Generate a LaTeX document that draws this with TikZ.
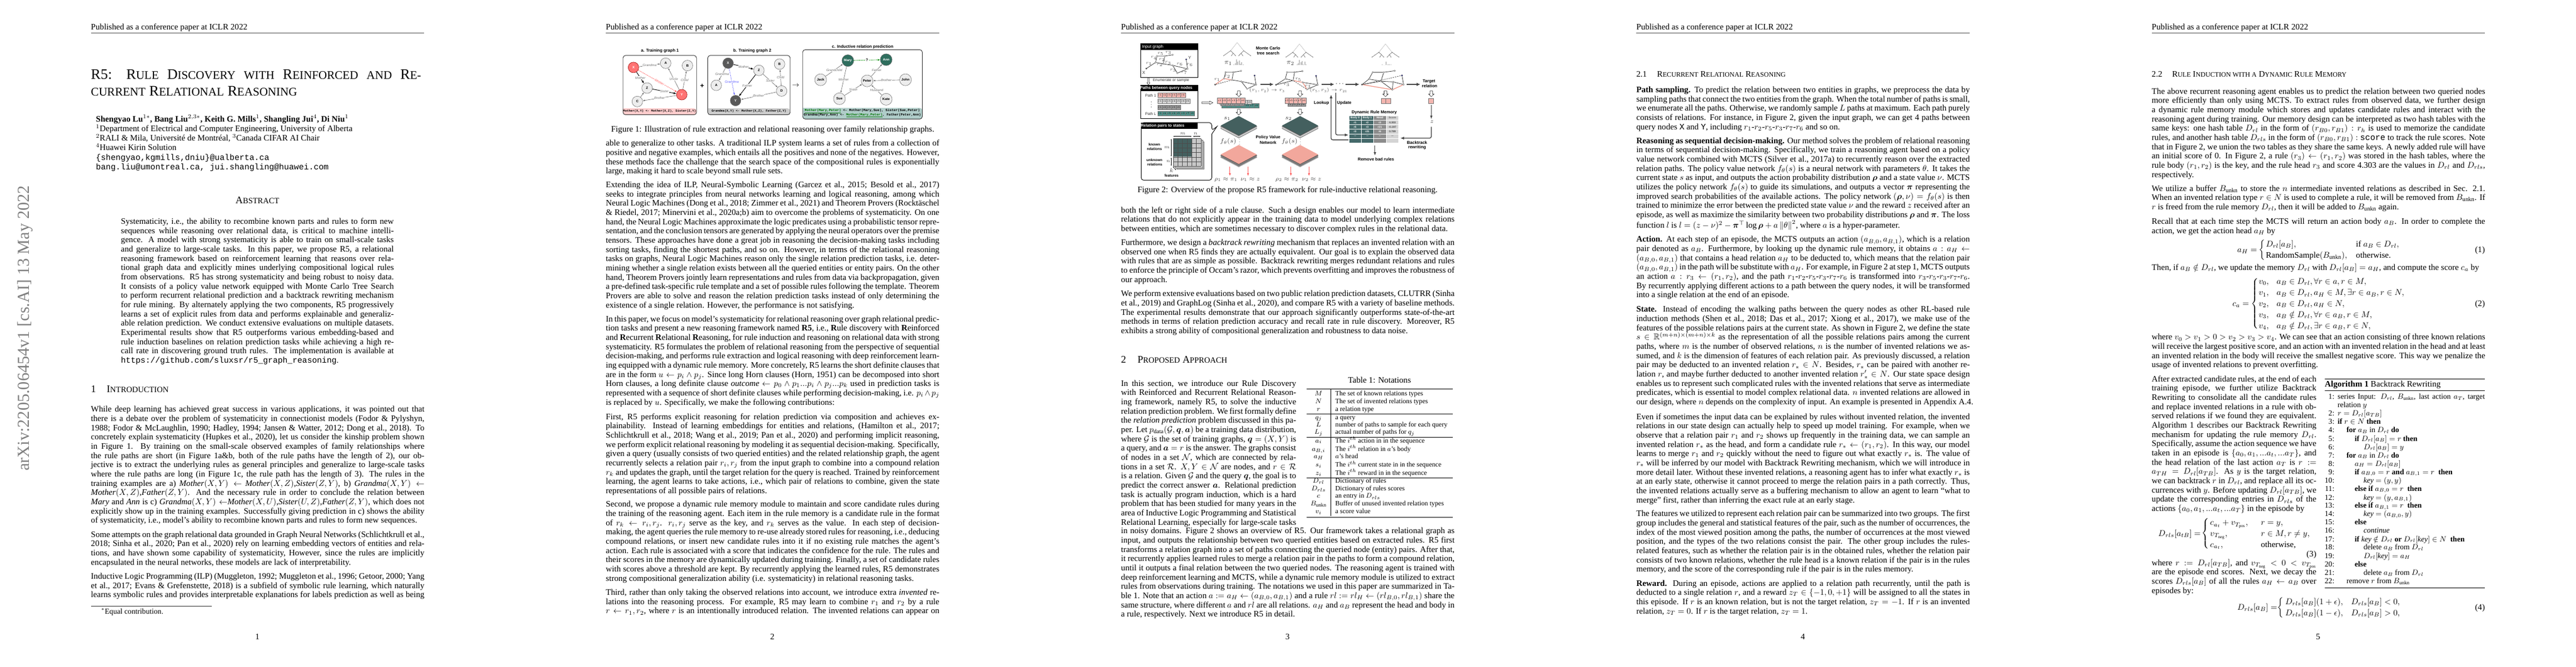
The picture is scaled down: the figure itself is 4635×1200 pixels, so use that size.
\documentclass[tikz,border=0pt]{standalone}
\usepackage{fix-cm}
\usepackage{amsmath,amssymb}
\usepackage{fontspec}
\setmainfont{Liberation Serif}
\setsansfont{Liberation Sans}
\setmonofont{Liberation Mono}
\usetikzlibrary{arrows.meta}
\overfullrule=0pt \hbadness=10000 \hfuzz=50pt
\newdimen\pw
\newcount\nn
\definecolor{pink1}{HTML}{F4B6B0}
\definecolor{pinkd}{HTML}{F2A79C}
\definecolor{pinkl}{HTML}{EF8F80}
\definecolor{tealp}{HTML}{4F9088}
\definecolor{teald}{HTML}{44605F}
\definecolor{tealt}{HTML}{44696A}
\definecolor{redn}{HTML}{FF7373}
\definecolor{greenn}{HTML}{2F6E5E}
\definecolor{darka}{HTML}{444444}
\definecolor{barg}{HTML}{C4C4C4}
\newcommand\nt[3][]{\global\advance\nn by 1 \node[#1] (n\the\nn) at #2 {#3};}
\newcommand\arr[3][]{\global\advance\nn by 1 \coordinate (a\the\nn) at (#2); \coordinate (b\the\nn) at (#3); \draw[#1] (a\the\nn) -- (b\the\nn);}
\newcommand\jl[1]{\hbox to \pw{#1}}
\newcommand\eln[1]{\hbox{#1}}
\newcommand\para[4]{\global\advance\nn by 1 \node[tx] (n\the\nn) at (#1,{#2+9}) {\pw=#3pt\vtop{\lineskiplimit=-100pt \lineskip=0pt \baselineskip=11pt #4}};}
\newcommand\tsc[1]{{\fontsize{13.9}{14}\selectfont #1}}
\newcommand\hsc[1]{{\fontsize{9.6}{11}\selectfont #1}}
\newcommand\ssc[1]{{\fontsize{8}{10}\selectfont #1}}
\newcommand\hdr[2]{\nt[tx]{(#1,141)}{Published as a conference paper at ICLR 2022}\draw[line width=.45pt,black!75] (#1,155) -- (#2,155);}
\newcommand\brc[1]{$\left\{\vcenter{\hbox{\rule{0pt}{#1}}}\right.$}
\newcommand\aln[4]{\nt[tx,algf,anchor=base east]{(831,{#3+9})}{#1:}\nt[tx,algf]{(#2,{#3+9})}{#4}}
\newcommand\trow[3]{\nt[tb,anchor=base]{(864,{#1+7})}{#2}\nt[tb]{(915,{#1+7})}{#3}}
\newcommand\cells[6]{\foreach \t [count=\i from 0] in {#6}{\pgfmathsetmacro{\xx}{#1+\i*#3}\draw[fill=#5,draw=black!55,line width=.25pt] (\xx,#2) rectangle +(#3,#4);\nt[cellt]{(\xx+#3/2,#2+#4/2)}{$\t$}}}
\newcommand\hdown[3]{\fill[white] ({#1-4},#2) rectangle ({#1+4},#3);\draw[line width=.4pt,black!80] ({#1-4},#2) -- ({#1+4},#2) -- ({#1+4},{#3-12}) -- ({#1+8},{#3-12}) -- (#1,#3) -- ({#1-8},{#3-12}) -- ({#1-4},{#3-12}) -- cycle;}
\newcommand\tree[2]{\begin{scope}[shift={(#1,#2)}]
\draw[line width=.25pt,black!35] (-20,39) -- (0,0) -- (20,39);
\draw[line width=.3pt,black!70] (-41,62) -- (-20,39) -- (-12,50) (-17,62) -- (-12,50) -- (-5,62) (41,62) -- (20,39) -- (12,50) (17,62) -- (12,50) -- (5,62);
\foreach \a/\b in {-41/62,-17/62,-5/62,41/62,17/62,5/62,-20/39,20/39}{\fill[black!70] (\a,\b) circle (.35pt);}
\end{scope}}
\newcommand\bars[2]{\foreach \h [count=\i from 0] in {#2}{\fill[barg] ({#1+\i*3.9},307) rectangle +(3.2,{-\h});}}
\newcommand\dmdt[4]{\foreach \o/\c in {#4}{\draw[fill=\c,draw=black!45,line width=.2pt] (#1,{#2-45+\o}) -- ({#1+55},{#2+\o}) -- (#1,{#2+45+\o}) -- ({#1-55},{#2+\o}) -- cycle;}\draw[fill=#3,draw=none] (#1,{#2-45}) -- ({#1+55},#2) -- (#1,{#2+45}) -- ({#1-55},#2) -- cycle;}
\tikzset{
 tx/.style={anchor=base west,inner sep=0pt,outer sep=0pt,font=\fontsize{10}{11}\selectfont},
 algf/.style={font=\fontsize{9}{10}\selectfont},
 tb/.style={anchor=base west,inner sep=0pt,outer sep=0pt,font=\fontsize{8}{9}\selectfont},
 zs/.style 2 args={shift={(#1,#2)},x=0.39146pt,y=-0.25258pt},
 zf/.style 2 args={shift={(#1,#2)},x=0.38938pt,y=-0.25258pt},
 zel/.style={shift={(1050,70)},x=0.2694pt,y=-0.2189pt},
 ztw/.style={shift={(1990,60)},x=0.22pt,y=-0.22pt},
 cen/.style={anchor=center,inner sep=0pt,outer sep=0pt},
 fb/.style={cen,align=center,font=\sffamily\bfseries\fontsize{5}{6}\selectfont},
 fr/.style={cen,font=\sffamily\fontsize{4.5}{5}\selectfont,text=black!80},
 fw/.style={cen,font=\sffamily\bfseries\fontsize{4.7}{5}\selectfont,text=white},
 cellt/.style={cen,font=\fontsize{2.8}{3}\selectfont},
 fm/.style={cen,font=\fontsize{7}{8}\selectfont,text=black!75},
 frl/.style={cen,font=\fontsize{5}{6}\selectfont,text=black!70},
 pbox/.style={draw=black!80,line width=.6pt,rounded corners=3pt},
 blk/.style={draw=black,line width=.6pt},
 ga/.style={circle,draw=black!60,fill=black!7,line width=.35pt,minimum size=12.6pt,inner sep=0pt,font=\sffamily\bfseries\fontsize{4}{5}\selectfont},
 gr/.style={ga,fill=redn,text=white,draw=red!60!black},
 gd/.style={ga,fill=black!65,text=white},
 gg/.style={ga,fill=greenn,text=white,minimum size=14pt},
 gc/.style={ga,minimum size=14pt},
 el/.style={fill=white,inner sep=.3pt,font=\sffamily\itshape\fontsize{3.9}{4}\selectfont,text=black!55},
 ge/.style={draw=black!60,line width=.4pt,-{Latex[length=2.4pt,width=1.8pt]}},
 gb/.style={draw=black,line width=.6pt,-{Latex[length=3.2pt,width=2.6pt]}},
 ta/.style={draw=darka,line width=1.15pt,-{Latex[length=4.5pt,width=4pt]}},
 tb2/.style={draw=darka,line width=.9pt,rounded corners=2pt,-{Latex[length=4.5pt,width=3.6pt]}},
 dn/.style={circle,fill=white,draw=black!65,line width=.25pt,minimum size=1.8pt,inner sep=0pt},
 dq/.style={dn,fill=black!70},
 dt/.style={dn,fill=blue!50!black},
 gl/.style={draw=black!80,line width=.5pt},
 gp/.style={draw=pinkl,line width=.8pt},
 gq/.style={draw=black!75,line width=.45pt,dash pattern=on 1.6pt off 1pt},
 tc/.style={cen,font=\sffamily\bfseries\fontsize{3.2}{4}\selectfont,text=white},
 rr/.style={draw=black,line width=.45pt},
}
\begin{document}
\begin{tikzpicture}[x=.66pt,y=-.66pt]
\useasboundingbox (0,0) rectangle (4635,1200);
\fill[white] (0,0) rectangle (4635,1200);
% ---------- arXiv stamp
\node[rotate=90,anchor=base west,inner sep=0pt,text=black!50,font=\fontsize{20}{22}\selectfont] (stamp) at (52,848) {arXiv:2205.06454v1 [cs.AI] 13 May 2022};
% ---------- PAGE 1
\begin{scope}[zs={0}{0}]
\hdr{276}{1286}
\nt[tx,font=\fontsize{17.28}{20}\selectfont]{(276,372)}{\pw=392pt\jl{R5: R\tsc{ULE} D\tsc{ISCOVERY} \tsc{WITH} R\tsc{EINFORCED} \tsc{AND} R\tsc{E-}}}
\nt[tx,font=\fontsize{17.28}{20}\selectfont]{(276,452)}{\tsc{CURRENT} R\tsc{ELATIONAL} R\tsc{EASONING}}
\nt[tx]{(291,573)}{\textbf{Shengyao Lu$^{1*}$, Bang Liu$^{2,3*}$, Keith G. Mills$^{1}$, Shangling Jui$^{4}$, Di Niu$^{1}$}}
\nt[tx]{(291,618)}{$^1$Department of Electrical and Computer Engineering, University of Alberta}
\nt[tx]{(291,663)}{$^2$RALI \& Mila, Université de Montréal, $^3$Canada CIFAR AI Chair}
\nt[tx]{(291,708)}{$^4$Huawei Kirin Solution}
\nt[tx]{(291,753)}{\fontsize{9.8}{11}\selectfont\ttfamily\{shengyao,kgmills,dniu\}@ualberta.ca}
\nt[tx]{(291,797)}{\fontsize{9.8}{11}\selectfont\ttfamily bang.liu@umontreal.ca, jui.shangling@huawei.com}
\nt[tx,anchor=base,font=\fontsize{12}{14}\selectfont]{(781,958)}{A\hsc{BSTRACT}}
\para{367}{1045}{324}{
\jl{Systematicity, i.e., the ability to recombine known parts and rules to form new}
\jl{sequences while reasoning over relational data, is critical to machine intelli-}
\jl{gence. A model with strong systematicity is able to train on small-scale tasks}
\jl{and generalize to large-scale tasks. In this paper, we propose R5, a relational}
\jl{reasoning framework based on reinforcement learning that reasons over rela-}
\jl{tional graph data and explicitly mines underlying compositional logical rules}
\jl{from observations. R5 has strong systematicity and being robust to noisy data.}
\jl{It consists of a policy value network equipped with Monte Carlo Tree Search}
\jl{to perform recurrent relational prediction and a backtrack rewriting mechanism}
\jl{for rule mining. By alternately applying the two components, R5 progressively}
\jl{learns a set of explicit rules from data and performs explainable and generaliz-}
\jl{able relation prediction. We conduct extensive evaluations on multiple datasets.}
\jl{Experimental results show that R5 outperforms various embedding-based and}
\jl{rule induction baselines on relation prediction tasks while achieving a high re-}
\jl{call rate in discovering ground truth rules. The implementation is available at}
\eln{\fontsize{9.7}{11}\selectfont\ttfamily https://github.com/sluxsr/r5\_graph\_reasoning\rmfamily.}
}
\end{scope}
\begin{scope}[zs={0}{600}]
\nt[tx,font=\fontsize{12}{14}\selectfont]{(276,277)}{1}
\nt[tx,font=\fontsize{12}{14}\selectfont]{(324,277)}{I\hsc{NTRODUCTION}}
\para{276}{362}{396}{
\jl{While deep learning has achieved great success in various applications, it was pointed out that}
\jl{there is a debate over the problem of systematicity in connectionist models (Fodor \& Pylyshyn,}
\jl{1988; Fodor \& McLaughlin, 1990; Hadley, 1994; Jansen \& Watter, 2012; Dong et al., 2018). To}
\jl{concretely explain systematicity (Hupkes et al., 2020), let us consider the kinship problem shown}
\jl{in Figure 1. By training on the small-scale observed examples of family relationships where}
\jl{the rule paths are short (in Figure 1a\&b, both of the rule paths have the length of 2), our ob-}
\jl{jective is to extract the underlying rules as general principles and generalize to large-scale tasks}
\jl{where the rule paths are long (in Figure 1c, the rule path has the length of 3). The rules in the}
\jl{training examples are a) \textit{Mother}$(X,Y)\leftarrow$ \textit{Mother}$(X,Z)$,\textit{Sister}$(Z,Y)$, b) \textit{Grandma}$(X,Y)\leftarrow$}
\jl{\textit{Mother}$(X,Z)$,\textit{Father}$(Z,Y)$. And the necessary rule in order to conclude the relation between}
\jl{\textit{Mary} and \textit{Ann} is c) \textit{Grandma}$(X,Y)\leftarrow$\textit{Mother}$(X,U)$,\textit{Sister}$(U,Z)$,\textit{Father}$(Z,Y)$, which does not}
\jl{explicitly show up in the training examples. Successfully giving prediction in c) shows the ability}
\eln{of systematicity, i.e., model’s ability to recombine known parts and rules to form new sequences.}
}
\para{276}{950}{396}{
\jl{Some attempts on the graph relational data grounded in Graph Neural Networks (Schlichtkrull et al.,}
\jl{2018; Sinha et al., 2020; Pan et al., 2020) rely on learning embedding vectors of entities and rela-}
\jl{tions, and have shown some capability of systematicity, However, since the rules are implicitly}
\eln{encapsulated in the neural networks, these models are lack of interpretability.}
}
\para{276}{1147}{396}{
\jl{Inductive Logic Programming (ILP) (Muggleton, 1992; Muggleton et al., 1996; Getoor, 2000; Yang}
\jl{et al., 2017; Evans \& Grefenstette, 2018) is a subfield of symbolic rule learning, which naturally}
\jl{learns symbolic rules and provides interpretable explanations for labels prediction as well as being}
}
\draw[line width=.4pt,black!80] (276,1285) -- (642,1285);
\nt[tx,font=\fontsize{9}{10}\selectfont]{(307,1321)}{$^*$Equal contribution.}
\nt[tx,anchor=base]{(781,1441)}{1}
\end{scope}
% ---------- PAGE 2
\begin{scope}[zs={930}{0}]
\hdr{270}{1281}
\fill[red!20] (322,510) [rounded corners=3pt] -- (322,540) -- (545,540) -- (545,510) [sharp corners] -- cycle;
\fill[black!20] (579,510) [rounded corners=3pt] -- (579,540) -- (829,540) -- (829,510) [sharp corners] -- cycle;
\fill[tealp!45] (867,508) [rounded corners=3pt] -- (867,560) -- (1230,560) -- (1230,508) [sharp corners] -- cycle;
\draw[pbox] (322,261) rectangle (545,540);
\draw[pbox] (579,261) rectangle (829,540);
\draw[pbox] (867,234) rectangle (1230,560);
\nt[fb]{(434,240)}{a. Training graph 1}
\nt[fb]{(714,240)}{b. Training graph 2}
\nt[fb]{(1049,220)}{c. Inductive relation prediction}
\nt[cen,font=\ttfamily\bfseries\fontsize{3.7}{4}\selectfont]{(433,523)}{Mother(X,Y) <- Mother(X,Z), Sister(Z,Y)}
\nt[cen,font=\ttfamily\bfseries\fontsize{3.7}{4}\selectfont]{(704,523)}{Grandma(X,Y) <- Mother(X,Z), Father(Z,Y)}
\nt[cen,font=\ttfamily\bfseries\fontsize{4}{4.5}\selectfont]{(1048,523)}{\textcolor{green!45!black}{\underline{Mother(Mary,Peter)}} <- Mother(Mary,Sue), Sister(Sue,Peter)}
\nt[cen,font=\ttfamily\bfseries\fontsize{4}{4.5}\selectfont]{(1048,542)}{Grandma(Mary,Ann) <- \textcolor{green!45!black}{\underline{Mother(Mary,Peter)}}, Father(Peter,Ann)}
\nt[cen,font=\sffamily\bfseries\fontsize{8}{9}\selectfont]{(562,405)}{+}
\nt[cen,font=\fontsize{8}{9}\selectfont]{(846,402)}{$\rightarrow$}
\nt[tx,anchor=base,font=\fontsize{10}{11}\selectfont]{(776,621)}{Figure 1: Illustration of rule extraction and relational reasoning over family relationship graphs.}
\para{270}{678}{396}{
\jl{able to generalize to other tasks. A traditional ILP system learns a set of rules from a collection of}
\jl{positive and negative examples, which entails all the positives and none of the negatives. However,}
\jl{these methods face the challenge that the search space of the compositional rules is exponentially}
\eln{large, making it hard to scale beyond small rule sets.}
}
\para{270}{873}{396}{
\jl{Extending the idea of ILP, Neural-Symbolic Learning (Garcez et al., 2015; Besold et al., 2017)}
\jl{seeks to integrate principles from neural networks learning and logical reasoning, among which}
\jl{Neural Logic Machines (Dong et al., 2018; Zimmer et al., 2021) and Theorem Provers (Rocktäschel}
\jl{\& Riedel, 2017; Minervini et al., 2020a;b) aim to overcome the problems of systematicity. On one}
\jl{hand, the Neural Logic Machines approximate the logic predicates using a probabilistic tensor repre-}
\jl{sentation, and the conclusion tensors are generated by applying the neural operators over the premise}
\jl{tensors. These approaches have done a great job in reasoning the decision-making tasks including}
\jl{sorting tasks, finding the shortest paths, and so on. However, in terms of the relational reasoning}
\jl{tasks on graphs, Neural Logic Machines reason only the single relation prediction tasks, i.e. deter-}
\jl{mining whether a single relation exists between all the queried entities or entity pairs. On the other}
\jl{hand, Theorem Provers jointly learn representations and rules from data via backpropagation, given}
\jl{a pre-defined task-specific rule template and a set of possible rules following the template. Theorem}
\jl{Provers are able to solve and reason the relation prediction tasks instead of only determining the}
\eln{existence of a single relation. However, the performance is not satisfying.}
}
\para{270}{1504}{396}{
\jl{In this paper, we focus on model’s systematicity for relational reasoning over graph relational predic-}
\jl{tion tasks and present a new reasoning framework named \textbf{R5}, i.e., \textbf{R}ule discovery with \textbf{R}einforced}
\jl{and \textbf{R}ecurrent \textbf{R}elational \textbf{R}easoning, for rule induction and reasoning on relational data with strong}
\jl{systematicity. R5 formulates the problem of relational reasoning from the perspective of sequential}
\jl{decision-making, and performs rule extraction and logical reasoning with deep reinforcement learn-}
\jl{ing equipped with a dynamic rule memory. More concretely, R5 learns the short definite clauses that}
\jl{are in the form $u\leftarrow p_i\wedge p_j$. Since long Horn clauses (Horn, 1951) can be decomposed into short}
\jl{Horn clauses, a long definite clause \textit{outcome} $\leftarrow p_0\wedge p_1...p_i\wedge p_j...p_k$ used in prediction tasks is}
\jl{represented with a sequence of short definite clauses while performing decision-making, i.e. $p_i\wedge p_j$}
\eln{is replaced by $u$. Specifically, we make the following contributions:}
}
\end{scope}
\begin{scope}[zel]
\node[gr] (aX) at (220,155) {X};
\node[ga] (aA) at (362,132) {A};
\node[ga] (aB) at (458,145) {B};
\node[ga] (aZ) at (280,267) {Z};
\node[gr] (aY) at (433,303) {Y};
\node[ga] (aC) at (237,340) {C};
\draw[ge] (aX) -- node[el]{Grandma} (aA);
\draw[gb] (aX) -- node[el]{Mother} (aZ);
\draw[ge] (aY) -- node[el]{Uncle} (aA);
\draw[ge] (aY) -- node[el]{Child} (aB);
\draw[gb] (aZ) -- node[el]{Sister} (aY);
\draw[ge] (aY) -- node[el]{Brother} (aC);
\draw[ge] (aC) -- (aZ);
\draw[draw=red!70,line width=.45pt,dash pattern=on 1.2pt off .8pt,-{Latex[length=2.6pt,width=2pt]}] (aX) -- node[el,sloped,text=red!60,pos=.55]{Mother} (aY);
\node[gd] (bX) at (637,132) {X};
\node[ga] (bZ) at (773,171) {Z};
\node[ga] (bB) at (864,137) {B};
\node[ga] (bA) at (585,252) {A};
\node[ga] (bD) at (873,283) {D};
\node[gd] (bY) at (670,335) {Y};
\draw[gb] (bX) -- node[el]{Mother} (bZ);
\draw[ge] (bX) -- node[el]{Grandma} (bA);
\draw[draw=blue!65,line width=.45pt,dash pattern=on 1.2pt off .8pt,-{Latex[length=2.6pt,width=2pt]}] (bX) -- node[el,text=blue!60]{Grandma} (bY);
\draw[gb] (bZ) -- node[el]{Father} (bY);
\draw[ge] (bZ) -- node[el]{Sister} (bD);
\draw[ge] (bD) -- node[el]{Child} (bB);
\draw[ge] (bD) -- node[el]{Brother} (bY);
\node[gg] (cM) at (1165,118) {Mary};
\node[gg] (cA) at (1334,113) {Ann};
\node[gc] (cJ) at (1045,222) {Jack};
\node[gc] (cP) at (1250,228) {Peter};
\node[gc] (cH) at (1419,222) {John};
\node[gc] (cS) at (1128,325) {Sue};
\node[gc] (cK) at (1334,328) {Kate};
\draw[draw=green!55!black,line width=.6pt,dash pattern=on 1.2pt off .8pt,-{Latex[length=2.8pt,width=2.2pt]}] (cM) -- node[fill=white,inner sep=.6pt,font=\sffamily\bfseries\fontsize{4.5}{5}\selectfont]{?} (cA);
\draw[ge] (cJ) -- node[el]{Grandchild} (cM);
\draw[ge] (cM) -- node[el]{Mother} (cS);
\draw[ge] (cS) -- node[el]{Sister} (cP);
\draw[ge] (cP) -- node[el]{Father} (cA);
\draw[ge] (cH) -- node[el]{Brother} (cP);
\draw[ge] (cK) -- node[el]{Husband} (cP);
\end{scope}
\begin{scope}[zs={930}{600}]
\para{270}{396}{396}{
\jl{First, R5 performs explicit reasoning for relation prediction via composition and achieves ex-}
\jl{plainability. Instead of learning embeddings for entities and relations, (Hamilton et al., 2017;}
\jl{Schlichtkrull et al., 2018; Wang et al., 2019; Pan et al., 2020) and performing implicit reasoning,}
\jl{we perform explicit relational reasoning by modeling it as sequential decision-making. Specifically,}
\jl{given a query (usually consists of two queried entities) and the related relationship graph, the agent}
\jl{recurrently selects a relation pair $r_i,r_j$ from the input graph to combine into a compound relation}
\jl{$r_k$ and updates the graph, until the target relation for the query is reached. Trained by reinforcement}
\jl{learning, the agent learns to take actions, i.e., which pair of relations to combine, given the state}
\eln{representations of all possible pairs of relations.}
}
\para{270}{808}{396}{
\jl{Second, we propose a dynamic rule memory module to maintain and score candidate rules during}
\jl{the training of the reasoning agent. Each item in the rule memory is a candidate rule in the format}
\jl{of $r_k\leftarrow r_i,r_j$. $r_i,r_j$ serve as the key, and $r_k$ serves as the value. In each step of decision-}
\jl{making, the agent queries the rule memory to re-use already stored rules for reasoning, i.e., deducing}
\jl{compound relations, or insert new candidate rules into it if no existing rule matches the agent’s}
\jl{action. Each rule is associated with a score that indicates the confidence for the rule. The rules and}
\jl{their scores in the memory are dynamically updated during training. Finally, a set of candidate rules}
\jl{with scores above a threshold are kept. By recurrently applying the learned rules, R5 demonstrates}
\eln{strong compositional generalization ability (i.e. systematicity) in relational reasoning tasks.}
}
\para{270}{1223}{396}{
\jl{Third, rather than only taking the observed relations into account, we introduce extra \textit{invented} re-}
\jl{lations into the reasoning process. For example, R5 may learn to combine $r_1$ and $r_2$ by a rule}
\jl{$r\leftarrow r_1,r_2$, where $r$ is an intentionally introduced relation. The invented relations can appear on}
}
\nt[tx,anchor=base]{(775,1441)}{2}
\end{scope}
% ---------- PAGE 3
\begin{scope}[zs={1860}{0}]
\hdr{265}{1276}
\tree{617}{200}\tree{806}{207}\tree{1067}{207}
\nt[fm,font=\fontsize{8}{9}\selectfont]{(590,298)}{$\pi_1$}
\nt[fm,font=\fontsize{8}{9}\selectfont]{(779,298)}{$\pi_2$}
\bars{606}{3,8,27,18,22,6,14,3}
\bars{797}{3,8,24,15,20,5,18,3}
\bars{1056}{4,0,0,18,5,3,3,3}
\nt[fb]{(711,227)}{Monte Carlo}
\nt[fb]{(711,251)}{tree search}
\nt[fb]{(711,647)}{Policy Value}
\nt[fb]{(711,670)}{Network}
\nt[fb]{(1199,384)}{Target}
\nt[fb]{(1201,405)}{relation}
\nt[fb]{(873,485)}{Lookup}
\nt[fb]{(942,485)}{Update}
\nt[fb]{(1033,529)}{Dynamic Rule Memory}
\nt[fb]{(1163,671)}{Backtrack}
\nt[fb]{(1163,693)}{rewriting}
\nt[fb]{(1038,749)}{Remove bad rules}
\node[dq] (hX) at (996,398) {};
\node[dn] (ha) at (1017,372) {};
\node[dn] (hb) at (1028,340) {};
\node[dn] (hc) at (1062,340) {};
\node[dn] (hd) at (1095,333) {};
\node[dn] (he) at (1053,382) {};
\node[dn] (hf) at (1090,385) {};
\node[dn] (hg) at (1088,422) {};
\node[dn] (hh) at (1122,398) {};
\node[dt] (ht) at (1117,355) {};
\draw[gl] (hX)--(ha) (ha)--(hb) (hb)--(hc) (hc)--(he) (hc)--(hd) (ha)--(he) (hX)--(he) (he)--(hf) (hf)--(hg) (he)--(hg) (hf)--(hh) (hh)--(ht);
\draw[gp] (hX)--(hg) (hg)--(hh);
\draw[gq] (hX)--(ht);
\arr[ta]{688,397}{728,397}
\arr[ta]{873,397}{912,397}
\arr[ta]{946,397}{988,397}
\arr[ta]{1132,397}{1173,397}
\nt[cen,font=\fontsize{7}{8}\selectfont]{(930,394)}{$\cdots$}
\nt[frl,font=\fontsize{5.5}{6}\selectfont]{(708,425)}{$(r_1,r_2)\rightarrow r_3$}
\nt[frl,font=\fontsize{5.5}{6}\selectfont]{(894,425)}{$(r_5,r_3)\rightarrow r_{21}$}
\hdown{622}{428}{455}\hdown{808}{428}{455}\hdown{1067}{428}{455}\hdown{1206}{428}{455}
\hdown{622}{514}{541}\hdown{808}{514}{541}
\cells{1054}{463}{14}{24}{pink1}{{},{}}
\cells{1198}{463}{14}{24}{pink1}{{}}
\dmdt{622}{591}{teald}{14/black!40,10/white,6/black!25,3/black!70}
\dmdt{808}{591}{teald}{14/black!40,10/white,6/black!25,3/black!70}
\dmdt{622}{727}{pinkd}{14/black!30,10/black!65,6/black!40,3/black!80}
\dmdt{808}{727}{pinkd}{14/black!30,10/black!65,6/black!40,3/black!80}
\nt[fm,font=\fontsize{7.5}{8}\selectfont]{(587,558)}{$s_1$}
\nt[fm,font=\fontsize{7.5}{8}\selectfont]{(773,558)}{$s_2$}
\nt[fm,font=\fontsize{7.5}{8}\selectfont]{(590,666)}{$f_\theta(s)$}
\nt[fm,font=\fontsize{7.5}{8}\selectfont]{(776,666)}{$f_\theta(s)$}
\foreach \x in {624,809}{\foreach \y in {655,667,679}{\fill[black!70] (\x,\y) circle (.35pt);}}
\foreach \x in {595,650,780,835}{\arr[draw=red!65,line width=.6pt,-{Latex[length=3.2pt,width=2.6pt]}]{\x,785}{\x,828}}
\nt[fm]{(583,845)}{$\rho_1\approx\pi_1$}
\nt[fm]{(657,845)}{$\nu_1\approx z$}
\nt[fm]{(768,845)}{$\rho_2\approx\pi_2$}
\nt[fm]{(843,845)}{$\nu_2\approx z$}
\fill[tealt] (957,545) rectangle (1031,672);
\fill[black!45] (1031,545) rectangle (1069,672);
\fill[black!17] (1069,545) rectangle (1106,672);
\foreach \y in {565,587,608,630,652}{\draw[line width=.25pt,white] (957,\y) -- (1106,\y);}
\foreach \x in {994,1031,1069}{\draw[line width=.25pt,white] (\x,545) -- (\x,672);}
\nt[tc]{(975,554)}{Body 0}\nt[tc]{(1012,554)}{Body 1}\nt[tc]{(1050,554)}{Head}\nt[tc,text=black!60]{(1088,554)}{Score}
\nt[tc]{(975,576)}{r1}\nt[tc]{(1012,576)}{r2}\nt[tc]{(1050,576)}{r3}\nt[tc,text=black!70]{(1088,576)}{4.303}
\nt[tc]{(975,597)}{r5}\nt[tc]{(1012,597)}{r3}\nt[tc]{(1050,597)}{r21}\nt[tc,text=black!70]{(1088,597)}{-0.197}
\nt[tc]{(975,619)}{r3}\nt[tc]{(1012,619)}{r21}\nt[tc]{(1050,619)}{r6}\nt[tc,text=black!70]{(1088,619)}{0.789}
\nt[tc]{(975,640)}{...}\nt[tc]{(1012,640)}{...}\nt[tc]{(1050,640)}{...}\nt[tc,text=black!70]{(1088,640)}{...}
\coordinate (lk0) at (955,658); \coordinate (lk1) at (902,658); \coordinate (lk2) at (902,445);
\draw[tb2] (lk0) -- (lk1) -- (lk2);
\coordinate (up0) at (916,437); \coordinate (up1) at (916,635); \coordinate (up2) at (955,635);
\draw[tb2] (up0) -- (up1) -- (up2);
\arr[draw=darka,line width=.6pt,-{Latex[length=4pt,width=3pt]}]{1206,495}{1206,560}
\nt[fm]{(1208,574)}{$z$}
\coordinate (bt0) at (1206,597); \coordinate (bt1) at (1206,650); \coordinate (bt2) at (1112,650);
\draw[tb2] (bt0) -- (bt1) -- (bt2);
\arr[draw=darka,line width=.6pt,-{Latex[length=4pt,width=3pt]}]{1035,685}{1035,732}
\draw[line width=.6pt,draw=black] (326,577) [rounded corners=3pt] -- (540,577) -- (540,614) [sharp corners] -- (556,595) -- (540,631) [rounded corners=3pt] -- (540,848) -- (326,848) -- cycle;
\fill[black] (326,577) rectangle (497,605);
\nt[fw]{(391,591)}{Relation pairs to states}
\foreach \d in {2,1}{\draw[fill=black!22,draw=black!55,line width=.25pt] ({423+5*\d},{652+7*\d}) rectangle +(84,130);}
\fill[teald] (423,652) rectangle (480,738);
\fill[black!22] (480,652) rectangle (507,738);
\fill[black!22] (423,738) rectangle (507,782);
\foreach \k in {0,...,6}{\draw[line width=.25pt,black!70] ({423+14*\k},652) -- ({423+14*\k},782);}
\foreach \k in {0,...,6}{\draw[line width=.25pt,black!70] (423,{652+21.67*\k}) -- (507,{652+21.67*\k});}
\arr[line width=.3pt,{Latex[length=1.5pt,width=1.2pt]}-{Latex[length=1.5pt,width=1.2pt]}]{423,642}{479,642}
\arr[line width=.3pt,{Latex[length=1.5pt,width=1.2pt]}-{Latex[length=1.5pt,width=1.2pt]}]{483,642}{506,642}
\arr[line width=.3pt,{Latex[length=1.5pt,width=1.2pt]}-{Latex[length=1.5pt,width=1.2pt]}]{417,653}{417,737}
\arr[line width=.3pt,{Latex[length=1.5pt,width=1.2pt]}-{Latex[length=1.5pt,width=1.2pt]}]{417,741}{417,781}
\arr[line width=.3pt,{Latex[length=1.5pt,width=1.2pt]}-{Latex[length=1.5pt,width=1.2pt]}]{422,784}{432,800}
\nt[fm,font=\fontsize{5.5}{6}\selectfont]{(452,628)}{$m$}
\nt[fm,font=\fontsize{5.5}{6}\selectfont]{(491,628)}{$n$}
\nt[fm,font=\fontsize{5.5}{6}\selectfont]{(404,693)}{$m$}
\nt[fm,font=\fontsize{5.5}{6}\selectfont]{(408,759)}{$n$}
\nt[fm]{(418,802)}{$k$}
\nt[fb,font=\sffamily\bfseries\fontsize{4.3}{5}\selectfont]{(366,680)}{known}
\nt[fb,font=\sffamily\bfseries\fontsize{4.3}{5}\selectfont]{(366,702)}{relations}
\nt[fb,font=\sffamily\bfseries\fontsize{4.3}{5}\selectfont]{(366,752)}{unknown}
\nt[fb,font=\sffamily\bfseries\fontsize{4.3}{5}\selectfont]{(367,774)}{relations}
\nt[fb,font=\sffamily\bfseries\fontsize{4.3}{5}\selectfont]{(418,825)}{features}
\nt[tx,anchor=base]{(770,905)}{Figure 2: Overview of the propose R5 framework for rule-inductive relational reasoning.}
\para{265}{992}{396}{
\jl{both the left or right side of a rule clause. Such a design enables our model to learn intermediate}
\jl{relations that do not explicitly appear in the training data to model underlying complex relations}
\eln{between entities, which are sometimes necessary to discover complex rules in the relational data.}
}
\para{265}{1145}{396}{
\jl{Furthermore, we design a \textit{backtrack rewriting} mechanism that replaces an invented relation with an}
\jl{observed one when R5 finds they are actually equivalent. Our goal is to explain the observed data}
\jl{with rules that are as simple as possible. Backtrack rewriting merges redundant relations and rules}
\jl{to enforce the principle of Occam’s razor, which prevents overfitting and improves the robustness of}
\eln{our approach.}
}
\para{265}{1386}{396}{
\jl{We perform extensive evaluations based on two public relation prediction datasets, CLUTRR (Sinha}
\jl{et al., 2019) and GraphLog (Sinha et al., 2020), and compare R5 with a variety of baseline methods.}
\jl{The experimental results demonstrate that our approach significantly outperforms state-of-the-art}
\jl{methods in terms of relation prediction accuracy and recall rate in rule discovery. Moreover, R5}
\eln{exhibits a strong ability of compositional generalization and robustness to data noise.}
}
\end{scope}
\begin{scope}[ztw]
\draw[blk,fill=white] (187,55) rectangle (495,238);
\fill[black] (187,55) rectangle (495,90);
\nt[fw,font=\sffamily\fontsize{5}{6}\selectfont]{(252,73)}{Input graph}
\node[dq] (iX) at (218,190) {};
\node[dn] (ia) at (268,157) {};
\node[dn] (ib) at (275,123) {};
\node[dn] (ic) at (317,123) {};
\node[dn] (id) at (360,116) {};
\node[dn] (ie) at (310,165) {};
\node[dn] (if) at (360,173) {};
\node[dn] (ig) at (440,192) {};
\node[dt] (ih) at (433,141) {};
\node[dn] (ii) at (385,215) {};
\draw[gl] (iX)--(ia) (ia)--(ib) (ib)--(ic) (ic)--(id) (ic)--(ie) (ia)--(ie) (ie)--(if) (if)--(ig) (ig)--(ih) (if)--(ii) (ii)--(ig);
\foreach \x/\y/\t in {232/165/r_1,258/133/r_4,295/110/r_5,337/105/r_3,302/143/r_2,290/171/r_2,335/160/r_3,398/168/r_6,452/170/r_6,362/200/r_3,422/213/r_7}{\nt[frl]{(\x,\y)}{$\t$}}
\nt[fr,font=\sffamily\fontsize{5}{6}\selectfont]{(204,212)}{X}
\nt[fr,font=\sffamily\fontsize{5}{6}\selectfont]{(452,132)}{Y}
\hdown{229}{240}{279}
\nt[fr]{(351,255)}{Enumerate or sample}
\draw[blk,fill=white] (188,279) rectangle (495,461);
\fill[black] (188,279) rectangle (495,313);
\nt[fw]{(325,297)}{Paths between query nodes}
\nt[fr]{(241,335)}{Path 1}
\nt[fr]{(241,434)}{Path L}
\cells{278}{322}{25}{25}{pink1}{r1,r2,r5,r3,r7,r6}
\cells{278}{355}{25}{25}{black!17}{r1,r4,r5,r2,r5,r6,r6}
\cells{278}{388}{25}{24}{black!40}{r1,r2,r5,r6,r6}
\cells{278}{420}{25}{25}{tealp}{r1,r4,r5,r2,r5,r3,r7,r6}
\foreach \y in {370,384,398}{\fill[black!80] (244,\y) circle (.4pt);}
\draw[line width=.4pt,black!80,fill=white] (517,371) -- (560,371) -- (560,366) -- (577,375) -- (560,384) -- (560,379) -- (517,379) -- cycle;
\cells{625}{378}{25}{24}{tealp}{r1,r4,r5,r2,r5,r3,r7,r6}
\cells{612}{360}{25}{22}{black!17}{r1,r4,r5,r2,r5,r6,r6}
\cells{618}{370}{25}{22}{black!40}{r1,r2,r5,r6,r6}
\cells{601}{350}{25}{28}{pink1}{r1,r2,r5,r3,r7,r6}
\cells{980}{375}{24}{18}{black!40}{r3,r5,r6,r6}
\cells{965}{350}{23}{28}{pink1}{r3,r5,r3,r7,r6}
\node[dq] (uX) at (589,277) {};
\node[dn] (ua) at (637,244) {};
\node[dn] (ub) at (646,210) {};
\node[dn] (uc) at (688,210) {};
\node[dn] (ud) at (729,203) {};
\node[dn] (ue) at (680,252) {};
\node[dn] (uf) at (730,260) {};
\node[dn] (ug) at (762,300) {};
\node[dn] (uh) at (810,277) {};
\node[dt] (ut) at (802,228) {};
\draw[gl] (ua)--(ub) (ub)--(uc) (uc)--(ue) (uc)--(ud) (ue)--(uf) (uf)--(uh) (uf)--(ug) (ug)--(uh) (uh)--(ut);
\draw[gp] (uX)--(ua) (ua)--(ue);
\draw[gq] (uX)--(ue);
\nt[frl]{(600,252)}{$r_1$}\nt[frl]{(655,233)}{$r_2$}
\node[dq] (vX) at (918,278) {};
\node[dn] (va) at (968,246) {};
\node[dn] (vb) at (977,210) {};
\node[dn] (vc) at (1018,210) {};
\node[dn] (vd) at (1060,204) {};
\node[dn] (ve) at (1010,255) {};
\node[dn] (vf) at (1062,265) {};
\node[dn] (vg) at (1085,303) {};
\node[dn] (vh) at (1143,278) {};
\node[dt] (vt) at (1134,230) {};
\draw[gl] (vX)--(va) (va)--(vb) (vb)--(vc) (vc)--(ve) (vc)--(vd) (va)--(ve) (vX)--(ve) (vf)--(vh) (vg)--(vh) (vh)--(vt);
\draw[gp] (ve)--(vf) (vf)--(vg);
\draw[gq] (ve)--(vg);
\nt[frl]{(975,278)}{$r_3$}\nt[frl]{(1038,250)}{$r_5$}\nt[frl]{(1090,287)}{$r_3$}
\end{scope}
\begin{scope}[zs={1860}{600}]
\nt[tx,font=\fontsize{12}{14}\selectfont]{(265,140)}{2}
\nt[tx,font=\fontsize{12}{14}\selectfont]{(315,140)}{P\hsc{ROPOSED} A\hsc{PPROACH}}
\para{265}{240}{207.9}{
\jl{In this section, we introduce our Rule Discovery}
\jl{with Reinforced and Recurrent Relational Reason-}
\jl{ing framework, namely R5, to solve the inductive}
\jl{relation prediction problem. We first formally define}
\jl{the \textit{relation prediction} problem discussed in this pa-}
\jl{per. Let $p_{\text{data}}(\mathcal{G},\boldsymbol{q},\boldsymbol{a})$ be a training data distribution,}
\jl{where $\mathcal{G}$ is the set of training graphs, $\boldsymbol{q}=(X,Y)$ is}
\jl{a query, and $\boldsymbol{a}=r$ is the answer. The graphs consist}
\jl{of nodes in a set $\mathcal{N}$, which are connected by rela-}
\jl{tions in a set $\mathcal{R}$. $X,Y\in\mathcal{N}$ are nodes, and $r\in\mathcal{R}$}
\jl{is a relation. Given $\mathcal{G}$ and the query $\boldsymbol{q}$, the goal is to}
\jl{predict the correct answer $\boldsymbol{a}$. Relational prediction}
\jl{task is actually program induction, which is a hard}
\jl{problem that has been studied for many years in the}
\jl{area of Inductive Logic Programming and Statistical}
\jl{Relational Learning, especially for large-scale tasks}
}
\para{265}{934}{396}{
\jl{in noisy domains. Figure 2 shows an overview of R5. Our framework takes a relational graph as}
\jl{input, and outputs the relationship between two queried entities based on extracted rules. R5 first}
\jl{transforms a relation graph into a set of paths connecting the queried node (entity) pairs. After that,}
\jl{it recurrently applies learned rules to merge a relation pair in the paths to form a compound relation,}
\jl{until it outputs a final relation between the two queried nodes. The reasoning agent is trained with}
\jl{deep reinforcement learning and MCTS, while a dynamic rule memory module is utilized to extract}
\jl{rules from observations during training. The notations we used in this paper are summarized in Ta-}
\jl{ble 1. Note that an action $a:=a_H\leftarrow(a_{B,0},a_{B,1})$ and a rule $rl:=rl_H\leftarrow(rl_{B,0},rl_{B,1})$ share the}
\jl{same structure, where different $a$ and $rl$ are all relations. $a_H$ and $a_B$ represent the head and body in}
\eln{a rule, respectively. Next we introduce R5 in detail.}
}
\nt[tx,anchor=base]{(1049,235)}{Table 1: Notations}
\draw[line width=.9pt] (828,262) -- (1271,262);
\draw[rr] (828,381) -- (1271,381) (828,489) -- (1271,489) (828,681) -- (1271,681);
\draw[line width=.9pt] (828,867) -- (1271,867);
\draw[rr] (900,262) -- (900,860);
\trow{288}{$M$}{The set of known relations types}
\trow{324}{$N$}{The set of invented relations types}
\trow{360}{$r$}{a relation type}
\trow{398}{$q_j$}{a query}
\trow{432}{$L$}{number of paths to sample for each query}
\trow{468}{$L_j$}{actual number of paths for $q_j$}
\trow{508}{$a_i$}{The $i^{th}$ action in in the sequence}
\trow{547}{$a_{B,i}$}{The $i^{th}$ relation in $a$’s body}
\trow{583}{$a_H$}{$a$’s head}
\trow{622}{$s_i$}{The $i^{th}$ current state in in the sequence}
\trow{660}{$z_i$}{The $i^{th}$ reward in in the sequence}
\trow{697}{$D_{rl}$}{Dictionary of rules}
\trow{733}{$D_{rls}$}{Dictionary of rules scores}
\trow{769}{$c$}{an entry in $D_{rls}$}
\trow{805}{$B_{\text{unkn}}$}{Buffer of unused invented relation types}
\trow{841}{$v_i$}{a score value}
\nt[tx,anchor=base]{(770,1441)}{3}
\end{scope}
% ---------- PAGE 4
\begin{scope}[zs={2780}{0}]
\hdr{277}{1288}
\nt[tx]{(277,363)}{2.1}
\nt[tx]{(340,363)}{R\ssc{ECURRENT} R\ssc{ELATIONAL} R\ssc{EASONING}}
\para{277}{426}{396}{
\jl{\textbf{Path sampling.} To predict the relation between two entities in graphs, we preprocess the data by}
\jl{sampling paths that connect the two entities from the graph. When the total number of paths is small,}
\jl{we enumerate all the paths. Otherwise, we randomly sample $L$ paths at maximum. Each path purely}
\jl{consists of relations. For instance, in Figure 2, given the input graph, we can get 4 paths between}
\eln{query nodes \texttt{X} and \texttt{Y}, including $r_1$-$r_2$-$r_5$-$r_3$-$r_7$-$r_6$ and so on.}
}
\para{277}{666}{396}{
\jl{\textbf{Reasoning as sequential decision-making.} Our method solves the problem of relational reasoning}
\jl{in terms of sequential decision-making. Specifically, we train a reasoning agent based on a policy}
\jl{value network combined with MCTS (Silver et al., 2017a) to recurrently reason over the extracted}
\jl{relation paths. The policy value network $f_\theta(s)$ is a neural network with parameters $\theta$. It takes the}
\jl{current state $s$ as input, and outputs the action probability distribution $\boldsymbol{\rho}$ and a state value $\nu$. MCTS}
\jl{utilizes the policy network $f_\theta(s)$ to guide its simulations, and outputs a vector $\boldsymbol{\pi}$ representing the}
\jl{improved search probabilities of the available actions. The policy network $(\boldsymbol{\rho},\nu)=f_\theta(s)$ is then}
\jl{trained to minimize the error between the predicted state value $\nu$ and the reward $z$ received after an}
\jl{episode, as well as maximize the similarity between two probability distributions $\boldsymbol{\rho}$ and $\boldsymbol{\pi}$. The loss}
}
\para{277}{1064}{396}{
\eln{function $l$ is $l=(z-\nu)^2-\boldsymbol{\pi}^\top\log\boldsymbol{\rho}+a\left\|\theta\right\|^2$, where $a$ is a hyper-parameter.}
}
\para{277}{1130}{396}{
\jl{\textbf{Action.} At each step of an episode, the MCTS outputs an action $(a_{B,0},a_{B,1})$, which is a relation}
\jl{pair denoted as $a_B$. Furthermore, by looking up the dynamic rule memory, it obtains $a:a_H\leftarrow$}
\jl{$(a_{B,0},a_{B,1})$ that contains a head relation $a_H$ to be deducted to, which means that the relation pair}
\jl{$(a_{B,0},a_{B,1})$ in the path will be substitute with $a_H$. For example, in Figure 2 at step 1, MCTS outputs}
\jl{an action $a:r_3\leftarrow(r_1,r_2)$, and the path $r_1$-$r_2$-$r_5$-$r_3$-$r_7$-$r_6$ is transformed into $r_3$-$r_5$-$r_3$-$r_7$-$r_6$.}
\jl{By recurrently applying different actions to a path between the query nodes, it will be transformed}
\eln{into a single relation at the end of an episode.}
}
\para{277}{1459}{396}{
\jl{\textbf{State.} Instead of encoding the walking paths between the query nodes as other RL-based rule}
\jl{induction methods (Shen et al., 2018; Das et al., 2017; Xiong et al., 2017), we make use of the}
\jl{features of the possible relations pairs at the current state. As shown in Figure 2, we define the state}
\jl{$s\in\mathbb{R}^{(m+n)\times(m+n)\times k}$ as the representation of all the possible relations pairs among the current}
\jl{paths, where $m$ is the number of observed relations, $n$ is the number of invented relations we as-}
\jl{sumed, and $k$ is the dimension of features of each relation pair. As previously discussed, a relation}
\jl{pair may be deducted to an invented relation $r_*\in N$. Besides, $r_*$ can be paired with another re-}
\jl{lation $r$, and maybe further deducted to another invented relation $r_*'\in N$. Our state space design}
\jl{enables us to represent such complicated rules with the invented relations that serve as intermediate}
\jl{predicates, which is essential to model complex relational data. $n$ invented relations are allowed in}
\eln{our design, where $n$ depends on the complexity of input. An example is presented in Appendix A.4.}
}
\end{scope}
\begin{scope}[zs={2780}{600}]
\para{277}{396}{396}{
\jl{Even if sometimes the input data can be explained by rules without invented relation, the invented}
\jl{relations in our state design can actually help to speed up model training. For example, when we}
\jl{observe that a relation pair $r_1$ and $r_2$ shows up frequently in the training data, we can sample an}
\jl{invented relation $r_*$ as the head, and form a candidate rule $r_*\leftarrow(r_1,r_2)$. In this way, our model}
\jl{learns to merge $r_1$ and $r_2$ quickly without the need to figure out what exactly $r_*$ is. The value of}
\jl{$r_*$ will be inferred by our model with Backtrack Rewriting mechanism, which we will introduce in}
\jl{more detail later. Without these invented relations, a reasoning agent has to infer what exactly $r_*$ is}
\jl{at an early state, otherwise it cannot proceed to merge the relation pairs in a path correctly. Thus,}
\jl{the invented relations actually serve as a buffering mechanism to allow an agent to learn “what to}
\eln{merge” first, rather than inferring the exact rule at an early stage.}
}
\para{277}{853}{396}{
\jl{The features we utilized to represent each relation pair can be summarized into two groups. The first}
\jl{group includes the general and statistical features of the pair, such as the number of occurrences, the}
\jl{index of the most viewed position among the paths, the number of occurrences at the most viewed}
\jl{position, and the types of the two relations consist the pair. The other group includes the rules-}
\jl{related features, such as whether the relation pair is in the obtained rules, whether the relation pair}
\jl{consists of two known relations, whether the rule head is a known relation if the pair is in the rules}
\eln{memory, and the score of the corresponding rule if the pair is in the rules memory.}
}
\para{277}{1180}{396}{
\jl{\textbf{Reward.} During an episode, actions are applied to a relation path recurrently, until the path is}
\jl{deducted to a single relation $r$, and a reward $z_T\in\{-1,0,+1\}$ will be assigned to all the states in}
\jl{this episode. If $r$ is an known relation, but is not the target relation, $z_T=-1$. If $r$ is an invented}
\eln{relation, $z_T=0$. If $r$ is the target relation, $z_T=1$.}
}
\nt[tx,anchor=base]{(782,1441)}{4}
\end{scope}
% ---------- PAGE 5
\begin{scope}[zf={3710}{0}]
\hdr{274}{1290}
\nt[tx]{(274,363)}{2.2}
\nt[tx]{(336,363)}{R\ssc{ULE} I\ssc{NDUCTION WITH A} D\ssc{YNAMIC} R\ssc{ULE} M\ssc{EMORY}}
\para{274}{433}{396}{
\jl{The above recurrent reasoning agent enables us to predict the relation between two queried nodes}
\jl{more efficiently than only using MCTS. To extract rules from observed data, we further design}
\jl{a dynamic rule memory module which stores and updates candidate rules and interact with the}
\jl{reasoning agent during training. Our memory design can be interpreted as two hash tables with the}
\jl{same keys: one hash table $D_{rl}$ in the form of $(r_{B0},r_{B1}):r_h$ is used to memorize the candidate}
\jl{rules, and another hash table $D_{rls}$ in the form of $(r_{B0},r_{B1}):$ \texttt{score} to track the rule scores. Note}
\jl{that in Figure 2, we union the two tables as they share the same keys. A newly added rule will have}
\jl{an initial score of 0. In Figure 2, a rule $(r_3)\leftarrow(r_1,r_2)$ was stored in the hash tables, where the}
\jl{rule body $(r_1,r_2)$ is the key, and the rule head $r_3$ and score 4.303 are the values in $D_{rl}$ and $D_{rls}$,}
\eln{respectively.}
}
\para{274}{890}{396}{
\jl{We utilize a buffer $B_{\text{unkn}}$ to store the $n$ intermediate invented relations as described in Sec. 2.1.}
\jl{When an invented relation type $r\in N$ is used to complete a rule, it will be removed from $B_{\text{unkn}}$. If}
\eln{$r$ is freed from the rule memory $D_{rl}$, then it will be added to $B_{\text{unkn}}$ again.}
}
\para{274}{1045}{396}{
\jl{Recall that at each time step the MCTS will return an action body $a_B$. In order to complete the}
\eln{action, we get the action head $a_H$ by}
}
\nt[tx]{(535,1187)}{$a_H=$}
\nt[tx,anchor=center]{(612,1175)}{\brc{21pt}}
\nt[tx]{(622,1162)}{$D_{rl}[a_B],$}
\nt[tx]{(897,1162)}{if $a_B\in D_{rl},$}
\nt[tx]{(622,1213)}{RandomSample$(B_{\text{unkn}}),$}
\nt[tx]{(897,1213)}{otherwise.}
\nt[tx,anchor=base east]{(1290,1187)}{(1)}
\para{274}{1262}{396}{
\eln{Then, if $a_B\notin D_{rl}$, we update the memory $D_{rl}$ with $D_{rl}[a_B]=a_H$, and compute the score $c_a$ by}
}
\nt[tx]{(520,1441)}{$c_a=$}
\nt[tx,anchor=center]{(590,1429)}{\brc{60pt}}
\nt[tx]{(600,1337)}{$v_0,$}
\nt[tx]{(600,1390)}{$v_1,$}
\nt[tx]{(600,1441)}{$v_2,$}
\nt[tx]{(600,1493)}{$v_3,$}
\nt[tx]{(600,1545)}{$v_4,$}
\nt[tx]{(655,1337)}{$a_B\in D_{rl},\forall r\in a,r\in M,$}
\nt[tx]{(655,1390)}{$a_B\in D_{rl},a_H\in M,\exists r\in a_B,r\in N,$}
\nt[tx]{(655,1441)}{$a_B\in D_{rl},a_H\in N,$}
\nt[tx]{(655,1493)}{$a_B\notin D_{rl},\forall r\in a_B,r\in M,$}
\nt[tx]{(655,1545)}{$a_B\notin D_{rl},\exists r\in a_B,r\in N,$}
\nt[tx,anchor=base east]{(1290,1441)}{(2)}
\end{scope}
\begin{scope}[zf={3710}{600}]
\para{274}{22}{396}{
\jl{where $v_0>v_1>0>v_2>v_3>v_4$. We can see that an action consisting of three known relations}
\jl{will receive the largest positive score, and an action with an invented relation in the head and at least}
\jl{an invented relation in the body will receive the smallest negative score. This way we penalize the}
\eln{usage of invented relations to prevent overfitting.}
}
\para{274}{219}{195.5}{
\jl{After extracted candidate rules, at the end of each}
\jl{training episode, we further utilize Backtrack}
\jl{Rewriting to consolidate all the candidate rules}
\jl{and replace invented relations in a rule with ob-}
\jl{served relations if we found they are equivalent.}
\jl{Algorithm 1 describes our Backtrack Rewriting}
\jl{mechanism for updating the rule memory $D_{rl}$.}
\jl{Specifically, assume the action sequence we have}
\jl{taken in an episode is $\{a_0,a_1,...a_t,...a_T\}$, and}
\jl{the head relation of the last action $a_T$ is $r:=$}
\jl{$a_{TH}=D_{rl}[a_{TB}]$. As $y$ is the target relation,}
\jl{we can backtrack $r$ in $D_{rl}$, and replace all its oc-}
\jl{currences with $y$. Before updating $D_{rl}[a_{TB}]$, we}
\jl{update the corresponding entries in $D_{rls}$ of the}
\eln{actions $\{a_0,a_1,...a_t,...a_T\}$ in the episode by}
}
\nt[tx]{(294,955)}{$D_{rls}[a_{tB}]=$}
\nt[tx,anchor=center]{(440,942)}{\brc{36pt}}
\nt[tx]{(452,904)}{$c_{a_t}+v_{T_{\text{pos}}},$}
\nt[tx]{(452,955)}{$v_{T_{\text{neg}}},$}
\nt[tx]{(452,1006)}{$c_{a_t},$}
\nt[tx]{(607,904)}{$r=y,$}
\nt[tx]{(607,955)}{$r\in M,r\neq y,$}
\nt[tx]{(607,1006)}{otherwise,}
\nt[tx,anchor=base east]{(776,1052)}{(3)}
\para{274}{1084}{195.5}{
\jl{where $r:=D_{rl}[a_{TB}]$, and $v_{T_{\text{neg}}}<0<v_{T_{\text{pos}}}$}
\jl{are the episode end scores. Next, we decay the}
\jl{scores $D_{rls}[a_B]$ of all the rules $a_H\leftarrow a_B$ over}
\eln{episodes by:}
}
\nt[tx]{(535,1302)}{$D_{rls}[a_B]=$}
\nt[tx,anchor=center]{(668,1290)}{\brc{21pt}}
\nt[tx]{(681,1277)}{$D_{rls}[a_B](1+\epsilon),$}
\nt[tx]{(681,1329)}{$D_{rls}[a_B](1-\epsilon),$}
\nt[tx]{(882,1277)}{$D_{rls}[a_B]<0,$}
\nt[tx]{(882,1329)}{$D_{rls}[a_B]>0,$}
\nt[tx,anchor=base east]{(1290,1302)}{(4)}
\draw[line width=.9pt] (802,215) -- (1290,215);
\nt[tx]{(802,252)}{\textbf{Algorithm 1} Backtrack Rewriting}
\draw[rr] (802,270) -- (1290,270);
\aln{1}{841}{301}{\pw=174.8pt\jl{series Input: $D_{rl}$, $B_{\text{unkn}}$, last action $a_T$, target}}
\nt[tx,algf]{(841,350)}{relation $y$}
\aln{2}{841}{380}{$r=D_{rl}[a_{TB}]$}
\aln{3}{841}{418}{\textbf{if} $r\in N$ \textbf{then}}
\aln{4}{868}{458}{\textbf{for} $a_B$ in $D_{rl}$ \textbf{do}}
\aln{5}{893}{498}{\textbf{if} $D_{rl}[a_B]=r$ \textbf{then}}
\aln{6}{920}{538}{$D_{rl}[a_B]=y$}
\aln{7}{868}{577}{\textbf{for} $a_B$ in $D_{rl}$ \textbf{do}}
\aln{8}{893}{616}{$a_H=D_{rl}[a_B]$}
\aln{9}{893}{655}{\textbf{if} $a_{B,0}=r$ \textbf{and} $a_{B,1}=r$ \ \textbf{then}}
\aln{10}{920}{695}{\textit{key} $=(y,y)$}
\aln{11}{893}{734}{\textbf{else if} $a_{B,0}=r$ \ \textbf{then}}
\aln{12}{920}{775}{\textit{key} $=(y,a_{B,1})$}
\aln{13}{893}{813}{\textbf{else if} $a_{B,1}=r$ \ \textbf{then}}
\aln{14}{920}{853}{\textit{key} $=(a_{B,0},y)$}
\aln{15}{893}{892}{\textbf{else}}
\aln{16}{920}{931}{\textit{continue}}
\aln{17}{893}{971}{\textbf{if} \textit{key} $\notin D_{rl}$ \textbf{or} $D_{rl}[\textit{key}]\in N$ \ \textbf{then}}
\aln{18}{920}{1010}{delete $a_B$ from $D_{rl}$}
\aln{19}{920}{1050}{$D_{rl}[\textit{key}]=a_H$}
\aln{20}{893}{1090}{\textbf{else}}
\aln{21}{920}{1129}{delete $a_B$ from $D_{rl}$}
\aln{22}{868}{1169}{remove $r$ from $B_{\text{unkn}}$}
\draw[line width=.6pt] (802,1198) -- (1290,1198);
\nt[tx,anchor=base]{(781,1441)}{5}
\end{scope}
\end{tikzpicture}
\end{document}
